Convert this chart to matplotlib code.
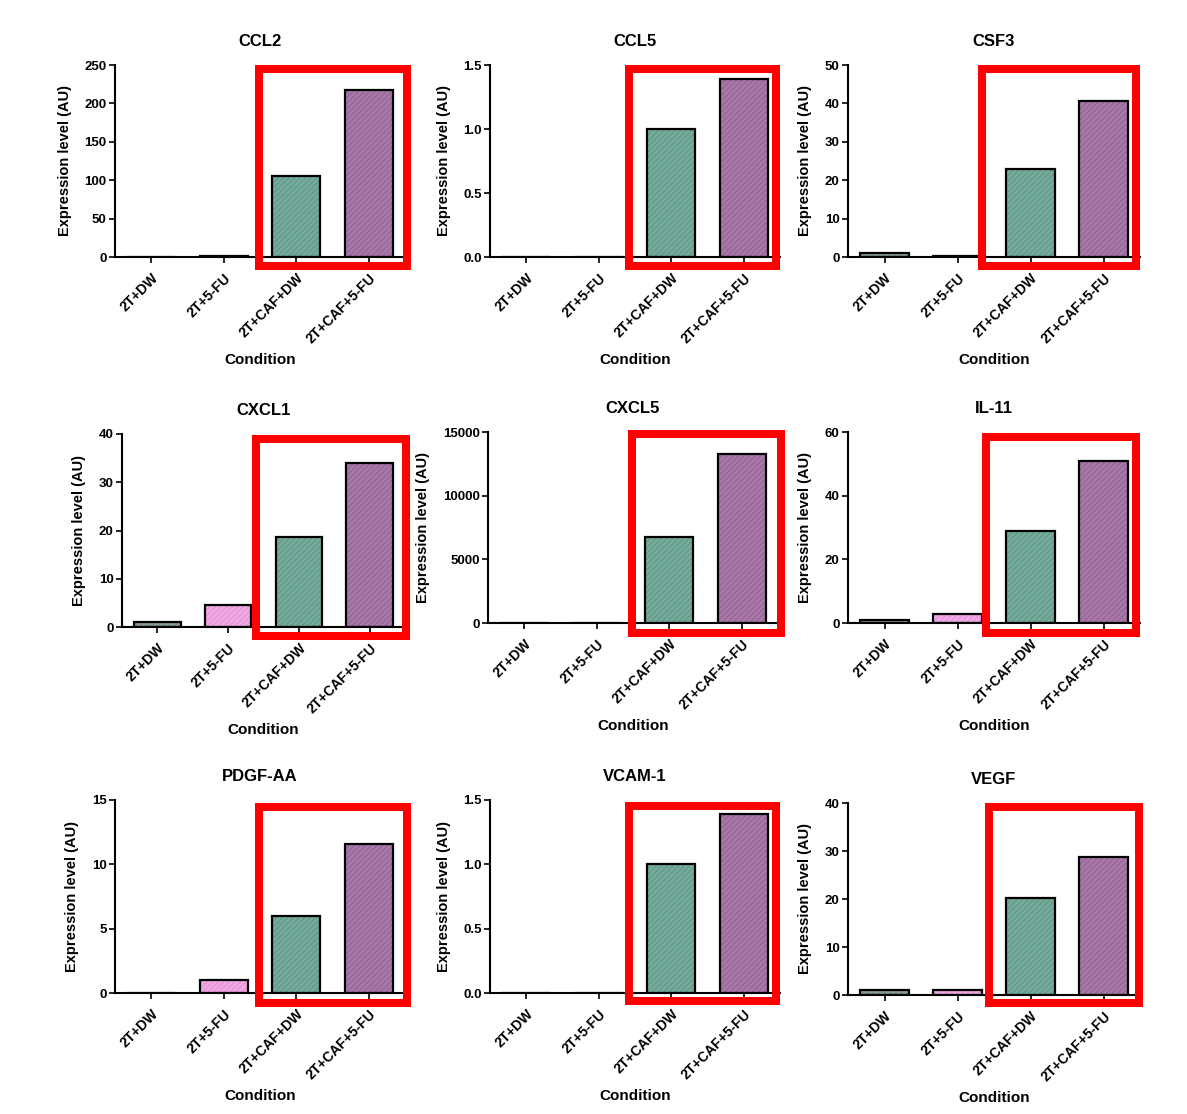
import matplotlib
matplotlib.use("Agg")
import matplotlib.pyplot as plt
from matplotlib.patches import Rectangle

plt.rcParams['font.family'] = ['Liberation Sans', 'DejaVu Sans']
plt.rcParams['font.weight'] = 'bold'
plt.rcParams['axes.labelweight'] = 'bold'
plt.rcParams['axes.titleweight'] = 'bold'
plt.rcParams['hatch.linewidth'] = 0.6

conditions = ["2T+DW", "2T+5-FU", "2T+CAF+DW", "2T+CAF+5-FU"]

titles = ["CCL2", "CCL5", "CSF3", "CXCL1", "CXCL5", "IL-11", "PDGF-AA", "VCAM-1", "VEGF"]

ccl2 = [0, 1.2, 106, 218]
ccl5 = [0, 0.003, 1.0, 1.39]
csf3 = [1.0, 0.3, 23, 40.7]
cxcl1 = [1.0, 4.6, 18.6, 34]
cxcl5 = [0, 10, 6750, 13300]
il11 = [1.0, 2.7, 29, 51]
pdgf_aa = [0, 1.0, 6.0, 11.6]
vcam1 = [0, 0.002, 1.0, 1.39]
vegf = [1.0, 1.0, 20.3, 28.8]
all_values = [ccl2, ccl5, csf3, cxcl1, cxcl5, il11, pdgf_aa, vcam1, vegf]

y_max = [250, 1.5, 50, 40, 15000, 60, 15, 1.5, 40]
y_step = [50, 0.5, 10, 10, 5000, 20, 5, 0.5, 10]
y_fmt = ["{:.0f}", "{:.1f}", "{:.0f}", "{:.0f}", "{:.0f}", "{:.0f}", "{:.0f}", "{:.1f}", "{:.0f}"]

bar_colors = ["#8a9c90", "#f2a8e6", "#74ab9c", "#a878a8"]
hatch_colors = ["#74867a", "#d890cc", "#5c907f", "#8c5c8c"]

# axes placement in pixels: left, right, top, bottom
W, H = 1187, 1114
axes_px = [
    (115, 405, 65, 257), (490, 780, 65, 257), (848, 1140, 65, 257),
    (122, 405, 434, 627), (488, 778, 432, 623), (848, 1140, 432, 623),
    (115, 405, 800, 993), (490, 780, 800, 993), (848, 1140, 803, 995),
]
# red highlight boxes (outer edge, pixels): left, right, top, bottom
boxes_px = [
    (255, 411, 65, 270), (625, 780, 65, 270), (978, 1140, 65, 270),
    (252, 410, 435, 640), (628, 785, 430, 637), (982, 1140, 433, 637),
    (255, 411, 803, 1007), (625, 780, 802, 1005), (985, 1143, 803, 1007),
]

fig = plt.figure(figsize=(W / 100, H / 100), dpi=100)

for i in range(9):
    l, r, t, b = axes_px[i]
    ax = fig.add_axes([l / W, 1 - b / H, (r - l) / W, (b - t) / H])
    vals = all_values[i]
    x = range(len(conditions))
    ax.bar(x, vals, width=0.66, color=bar_colors, edgecolor=hatch_colors,
           hatch="//////", linewidth=0, zorder=2)
    ax.bar(x, vals, width=0.66, color="none", edgecolor="black",
           linewidth=1.6, zorder=3)
    ax.set_xlim(-0.5, 3.5)
    ax.set_ylim(0, y_max[i])
    ticks = [k * y_step[i] for k in range(int(round(y_max[i] / y_step[i])) + 1)]
    ax.set_yticks(ticks)
    ax.set_yticklabels([y_fmt[i].format(v) for v in ticks], fontsize=9.5)
    ax.set_xticks(list(x))
    ax.set_xticklabels(conditions, rotation=45, ha="right",
                       rotation_mode="anchor", fontsize=10)
    ax.spines["top"].set_visible(False)
    ax.spines["right"].set_visible(False)
    ax.spines["left"].set_linewidth(1.5)
    ax.spines["bottom"].set_linewidth(1.5)
    ax.tick_params(width=1.2, length=4, pad=2)
    ax.tick_params(axis="x", pad=6)
    ax.set_title(titles[i], fontsize=12, pad=14)
    ax.set_ylabel("Expression level (AU)", fontsize=10.5, labelpad=9)
    ax.set_xlabel("Condition", fontsize=11, labelpad=5)

    bl, br, bt, bb = boxes_px[i]
    lw_px = 8
    rect = Rectangle(((bl + lw_px / 2) / W, 1 - (bb - lw_px / 2) / H),
                     (br - bl - lw_px) / W, (bb - bt - lw_px) / H,
                     transform=fig.transFigure, fill=False,
                     edgecolor="#ff0000", linewidth=lw_px * 0.72, zorder=10)
    fig.patches.append(rect)

fig.savefig("out.png", dpi=100)
